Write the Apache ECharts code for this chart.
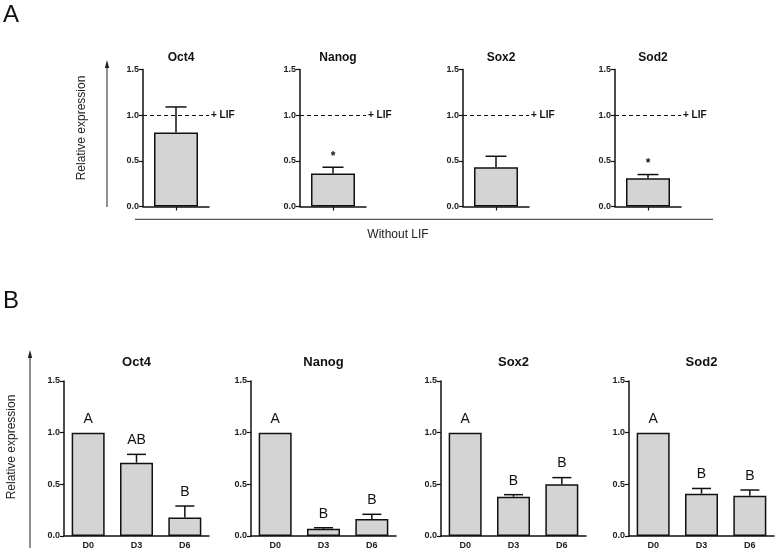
<!DOCTYPE html>
<html>
<head>
<meta charset="utf-8">
<script src="https://cdn.jsdelivr.net/npm/echarts@6/dist/echarts.min.js"></script>
<style>html,body{margin:0;padding:0;background:#fff}#c{width:777px;height:553px}</style>
</head>
<body>
<div id="c"></div>
<script>
// ---------- data ----------
const genes = ['Oct4', 'Nanog', 'Sox2', 'Sod2'];
// Panel A: without LIF, relative to +LIF (=1.0)
const panelAValues = [0.81, 0.36, 0.43, 0.31];
const panelAErrors = [0.28, 0.07, 0.12, 0.04];
const panelAMarks = ['', '*', '', '*'];
const lifLevel = 1.0;
const lifLabel = '+ LIF';
const panelAXLabel = 'Without LIF';
// Panel B: days of differentiation
const days = ['D0', 'D3', 'D6'];
const oct4B = [1.0, 0.71, 0.18];
const oct4BErr = [0, 0.08, 0.11];
const oct4BLetters = ['A', 'AB', 'B'];
const nanogB = [1.0, 0.07, 0.165];
const nanogBErr = [0, 0.01, 0.045];
const nanogBLetters = ['A', 'B', 'B'];
const sox2B = [1.0, 0.38, 0.50];
const sox2BErr = [0, 0.02, 0.065];
const sox2BLetters = ['A', 'B', 'B'];
const sod2B = [1.0, 0.41, 0.39];
const sod2BErr = [0, 0.05, 0.055];
const sod2BLetters = ['A', 'B', 'B'];
const yTicks = [0, 0.5, 1.0, 1.5];
const yLabel = 'Relative expression';

const panelBValues = [oct4B, nanogB, sox2B, sod2B];
const panelBErrors = [oct4BErr, nanogBErr, sox2BErr, sod2BErr];
const panelBLetters = [oct4BLetters, nanogBLetters, sox2BLetters, sod2BLetters];

// ---------- layout ----------
const FONT = 'Liberation Sans, Arial, sans-serif';
const aLefts = [143, 300, 463, 615];
const aTop = 69.5, aHeight = 137, aWidth = 66;
const bLefts = [64, 251, 441, 629];
const bTop = 381, bHeight = 155, bWidth = 145;

const grids = [], xAxes = [], yAxes = [], series = [], titles = [];

function yAxisFor(gi) {
  return {
    gridIndex: gi, type: 'value', min: yTicks[0], max: yTicks[yTicks.length - 1], interval: 0.5,
    axisLine: {show: true, lineStyle: {color: '#111', width: 1.5}},
    axisTick: {show: true, length: 4, lineStyle: {color: '#111', width: 1.2}},
    axisLabel: {fontFamily: FONT, fontWeight: 'bold', fontSize: 9, color: '#222', margin: 4,
      formatter: v => v.toFixed(1)},
    splitLine: {show: false}
  };
}

function errSeries(gi, vals, errs, marks, capW, isA) {
  return {
    type: 'custom', xAxisIndex: gi, yAxisIndex: gi, z: 5,
    data: vals.map((v, i) => [i, v, errs[i], marks[i]]),
    renderItem: function (params, api) {
      const i = api.value(0), v = api.value(1), e = api.value(2);
      const mark = marks[i];
      const p0 = api.coord([i, v]);
      const p1 = api.coord([i, v + e]);
      const children = [];
      if (e > 0) {
        children.push({type: 'line', shape: {x1: p0[0], y1: p0[1], x2: p1[0], y2: p1[1]},
          style: {stroke: '#111', lineWidth: 1.5}});
        children.push({type: 'line', shape: {x1: p1[0] - capW / 2, y1: p1[1], x2: p1[0] + capW / 2, y2: p1[1]},
          style: {stroke: '#111', lineWidth: 1.5}});
      }
      if (mark) {
        children.push({type: 'text', x: p1[0], y: p1[1] - (isA ? 5 : 7),
          style: {text: mark, textAlign: 'center', textVerticalAlign: 'bottom',
            font: (isA ? 'bold 12px ' : '14px ') + FONT, fill: '#111'}});
      }
      return {type: 'group', children: children};
    }
  };
}

// Panel A
genes.forEach((g, k) => {
  const gi = grids.length;
  grids.push({left: aLefts[k], top: aTop, width: aWidth, height: aHeight});
  xAxes.push({gridIndex: gi, type: 'category', data: [g],
    axisLine: {show: true, lineStyle: {color: '#111', width: 1.5}},
    axisTick: {show: true, alignWithLabel: true, length: 4, lineStyle: {color: '#111', width: 1.2}},
    axisLabel: {show: false}});
  yAxes.push(yAxisFor(gi));
  series.push({type: 'bar', xAxisIndex: gi, yAxisIndex: gi, data: [panelAValues[k]], barWidth: 44,
    itemStyle: {color: '#d4d4d4', borderColor: '#111', borderWidth: 1.5},
    markLine: {silent: true, symbol: 'none', animation: false,
      lineStyle: {type: [4, 3], color: '#111', width: 1.2},
      label: {show: true, position: 'end', formatter: lifLabel, distance: 2, padding: [0, 0, 14, 0],
        fontFamily: FONT, fontWeight: 'bold', fontSize: 10, color: '#111'},
      data: [{yAxis: lifLevel}]}});
  series.push(errSeries(gi, [panelAValues[k]], [panelAErrors[k]], [panelAMarks[k]], 21, true));
  titles.push({text: g, left: aLefts[k] + aWidth / 2, top: 47, textAlign: 'center',
    textStyle: {fontFamily: FONT, fontWeight: 'bold', fontSize: 12, color: '#111'}});
});

// Panel B
genes.forEach((g, k) => {
  const gi = grids.length;
  grids.push({left: bLefts[k], top: bTop, width: bWidth, height: bHeight});
  xAxes.push({gridIndex: gi, type: 'category', data: days,
    axisLine: {show: true, lineStyle: {color: '#111', width: 1.5}},
    axisTick: {show: false},
    axisLabel: {fontFamily: FONT, fontWeight: 'bold', fontSize: 9, color: '#222', margin: 5}});
  yAxes.push(yAxisFor(gi));
  series.push({type: 'bar', xAxisIndex: gi, yAxisIndex: gi, data: panelBValues[k], barWidth: 33,
    itemStyle: {color: '#d4d4d4', borderColor: '#111', borderWidth: 1.5}});
  series.push(errSeries(gi, panelBValues[k], panelBErrors[k], panelBLetters[k], 19, false));
  titles.push({text: g, left: bLefts[k] + bWidth / 2 - 5, top: 351, textAlign: 'center',
    textStyle: {fontFamily: FONT, fontWeight: 'bold', fontSize: 13, color: '#111'}});
});

const graphic = [
  {type: 'text', left: 3, top: 3, style: {text: 'A', font: '24px ' + FONT, fill: '#111'}},
  {type: 'text', left: 3, top: 289, style: {text: 'B', font: '24px ' + FONT, fill: '#111'}},
  // Panel A side arrow and label
  {type: 'line', shape: {x1: 107, y1: 207, x2: 107, y2: 64}, style: {stroke: '#222', lineWidth: 1}},
  {type: 'polygon', shape: {points: [[107, 60], [104.8, 68], [109.2, 68]]}, style: {fill: '#222'}},
  {type: 'text', x: 82, y: 128, rotation: Math.PI / 2,
    style: {text: yLabel, font: '12px ' + FONT, fill: '#222', textAlign: 'center', textVerticalAlign: 'middle'}},
  // Panel A bottom bracket line and label
  {type: 'line', shape: {x1: 135, y1: 219.3, x2: 713, y2: 219.3}, style: {stroke: '#555', lineWidth: 1.2}},
  {type: 'text', x: 398, y: 235, style: {text: panelAXLabel, font: '12px ' + FONT, fill: '#222',
    textAlign: 'center', textVerticalAlign: 'middle'}},
  // Panel B side arrow and label
  {type: 'line', shape: {x1: 30, y1: 548, x2: 30, y2: 355}, style: {stroke: '#222', lineWidth: 1}},
  {type: 'polygon', shape: {points: [[30, 350], [27.8, 358], [32.2, 358]]}, style: {fill: '#222'}},
  {type: 'text', x: 12, y: 447, rotation: Math.PI / 2,
    style: {text: yLabel, font: '12px ' + FONT, fill: '#222', textAlign: 'center', textVerticalAlign: 'middle'}}
];

const chart = echarts.init(document.getElementById('c'), null, {renderer: 'canvas'});
chart.setOption({
  animation: false,
  backgroundColor: '#fff',
  title: titles,
  grid: grids,
  xAxis: xAxes,
  yAxis: yAxes,
  series: series,
  graphic: graphic
});
</script>
</body>
</html>
